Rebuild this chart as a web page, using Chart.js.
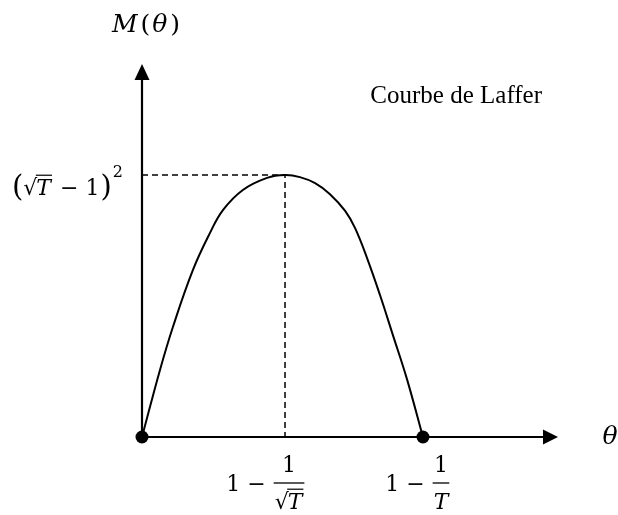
<!DOCTYPE html>
<html>
<head>
<meta charset="utf-8">
<script src="https://cdn.jsdelivr.net/npm/chart.js@4/dist/chart.umd.min.js"></script>
<style>
  html, body { margin: 0; background: #fff; }
  #wrap { width: 618px; height: 515px; }
</style>
</head>
<body>
<div id="wrap"><canvas id="lafferChart"></canvas></div>
<script>
// Laffer curve (theta: 0 -> 1-1/T, M: 0 -> (sqrtT-1)^2)
const thetaValues   = [0, 0.064, 0.110, 0.181, 0.242, 0.288, 0.359, 0.445, 0.509, 0.562, 0.616, 0.669, 0.723, 0.758, 0.801, 0.847, 0.893, 0.943, 1.0];
const revenueValues = [0, 0.256, 0.420, 0.637, 0.779, 0.866, 0.943, 0.989, 1.0, 0.992, 0.969, 0.927, 0.863, 0.798, 0.683, 0.542, 0.389, 0.221, 0];
const thetaPeak = 0.509;     // 1 - 1/sqrt(T)
const revenuePeak = 1.0;     // (sqrt(T) - 1)^2
const thetaEnd = 1.0;        // 1 - 1/T
const thetaMax = 1.477;      // end of the theta axis
const revenueMax = 1.42;     // end of the M axis
const titleText = 'Courbe de Laffer';

const serif = '"Liberation Serif", serif';
const math = '"DejaVu Serif", serif';
const pts = (xs, ys) => xs.map((x, i) => ({ x: x, y: ys[i] }));

// draw a row of text pieces, each with its own font and gap after it
function drawRuns(ctx, runs, x, y, align) {
    let w = 0;
    runs.forEach(r => { ctx.font = r.f; r.w = ctx.measureText(r.t).width; w += r.w + (r.g || 0); });
    let cx = align === 'center' ? x - w / 2 : align === 'right' ? x - w : x;
    ctx.textAlign = 'left';
    runs.forEach(r => {
        ctx.font = r.f;
        ctx.fillText(r.t, cx, y + (r.dy || 0));
        cx += r.w + (r.g || 0);
    });
    return cx;
}

// sqrt sign + italic T with a bar over it, returns width
function sqrtT(ctx, x, y, size) {
    ctx.textAlign = 'left';
    ctx.font = `${size}px ${math}`;
    const ws = ctx.measureText('√').width;
    ctx.fillText('√', x, y);
    ctx.font = `italic ${size}px ${math}`;
    const wt = ctx.measureText('T').width;
    ctx.fillText('T', x + ws - 1, y);
    ctx.beginPath();
    ctx.lineWidth = 1.2;
    ctx.moveTo(x + ws - 1.5, y - size * 0.9);
    ctx.lineTo(x + ws + wt, y - size * 0.9);
    ctx.stroke();
    return ws + wt;
}

function sqrtWidth(ctx, size) {
    ctx.font = `${size}px ${math}`;
    const ws = ctx.measureText('√').width;
    ctx.font = `italic ${size}px ${math}`;
    return ws + ctx.measureText('T').width;
}

// "1 - 1/den" label, bar centred on cx at height y
function tickLabel(ctx, cx, y, den, size) {
    let dw;
    if (den === 'sqrt') dw = sqrtWidth(ctx, size);
    else { ctx.font = `italic ${size}px ${math}`; dw = ctx.measureText('T').width; }
    const bw = Math.max(dw, 13) + 2;
    ctx.font = `${size}px ${math}`;
    ctx.textAlign = 'right';
    ctx.fillText('1 − ', cx - bw / 2 - 1, y + 8);
    ctx.textAlign = 'center';
    ctx.fillText('1', cx, y - 11);
    if (den === 'sqrt') sqrtT(ctx, cx - dw / 2, y + 26, size);
    else { ctx.font = `italic ${size}px ${math}`; ctx.textAlign = 'center'; ctx.fillText('T', cx, y + 26); }
    ctx.beginPath();
    ctx.lineWidth = 1.3;
    ctx.moveTo(cx - bw / 2, y);
    ctx.lineTo(cx + bw / 2, y);
    ctx.stroke();
    ctx.textAlign = 'left';
}

const annotations = {
    id: 'annotations',
    afterDatasetsDraw(chart) {
        const { ctx, scales: { x, y } } = chart;
        const x0 = x.getPixelForValue(0), y0 = y.getPixelForValue(0);
        const xEnd = x.getPixelForValue(thetaMax), yEnd = y.getPixelForValue(revenueMax);
        ctx.save();
        ctx.fillStyle = '#000';
        ctx.strokeStyle = '#000';

        // arrow heads
        ctx.beginPath();
        ctx.moveTo(xEnd + 1, y0);
        ctx.lineTo(xEnd - 14, y0 - 7.5);
        ctx.lineTo(xEnd - 14, y0 + 7.5);
        ctx.closePath();
        ctx.fill();
        ctx.beginPath();
        ctx.moveTo(x0, yEnd - 1);
        ctx.lineTo(x0 - 7.5, yEnd + 15);
        ctx.lineTo(x0 + 7.5, yEnd + 15);
        ctx.closePath();
        ctx.fill();

        ctx.textBaseline = 'alphabetic';
        // axis names
        drawRuns(ctx, [
            { t: 'M', f: `italic 25px ${math}`, g: 3 },
            { t: '(', f: `25px ${math}`, g: 2 },
            { t: 'θ', f: `italic 25px ${math}`, g: 3 },
            { t: ')', f: `25px ${math}` }
        ], x0 + 4, 32, 'center');
        drawRuns(ctx, [{ t: 'θ', f: `italic 25px ${math}` }], 610, 444, 'center');

        // title
        ctx.font = `25px ${serif}`;
        ctx.textAlign = 'right';
        ctx.fillText(titleText, 542, 103);
        ctx.textAlign = 'left';

        // peak value label on the M axis
        const yp = y.getPixelForValue(revenuePeak);
        const base = yp + 20;
        let lx = 12;
        ctx.font = `29px ${math}`;
        ctx.fillText('(', lx, base + 1);
        lx += ctx.measureText('(').width;
        lx += sqrtT(ctx, lx, base, 22) + 1;
        ctx.font = `22px ${math}`;
        ctx.fillText(' − 1', lx, base);
        lx += ctx.measureText(' − 1').width + 1;
        ctx.font = `29px ${math}`;
        ctx.fillText(')', lx, base + 1);
        lx += ctx.measureText(')').width + 1;
        ctx.font = `16px ${math}`;
        ctx.fillText('2', lx, yp + 2);

        // tick labels on the theta axis
        tickLabel(ctx, x.getPixelForValue(thetaPeak) + 4, y0 + 46, 'sqrt', 22);
        tickLabel(ctx, x.getPixelForValue(thetaEnd) + 18, y0 + 46, 'T', 22);

        ctx.restore();
    }
};

new Chart(document.getElementById('lafferChart'), {
    type: 'scatter',
    data: {
        datasets: [
            {   // end points
                data: pts([0, thetaEnd], [0, 0]),
                pointRadius: 6.5,
                pointBackgroundColor: '#000',
                pointBorderWidth: 0,
                showLine: false,
                order: 0
            },
            {   // the curve
                data: pts(thetaValues, revenueValues),
                showLine: true,
                borderColor: '#000',
                borderWidth: 2,
                pointRadius: 0,
                tension: 0.4,
                order: 2
            },
            {   // theta axis
                data: pts([0, thetaMax - 0.03], [0, 0]),
                showLine: true, borderColor: '#000', borderWidth: 2.2, pointRadius: 0, order: 1
            },
            {   // M axis
                data: pts([0, 0], [0, revenueMax - 0.03]),
                showLine: true, borderColor: '#000', borderWidth: 2.2, pointRadius: 0, order: 1
            },
            {   // dashed guides
                data: [{ x: 0, y: revenuePeak }, { x: thetaPeak, y: revenuePeak }, { x: thetaPeak, y: 0 }],
                showLine: true, borderColor: '#000', borderWidth: 1.5, borderDash: [6, 4],
                pointRadius: 0, order: 3
            }
        ]
    },
    options: {
        responsive: true,
        maintainAspectRatio: false,
        animation: false,
        clip: false,
        layout: { padding: { left: 142, right: 61, top: 65, bottom: 78 } },
        plugins: { legend: { display: false }, tooltip: { enabled: false } },
        scales: {
            x: { type: 'linear', min: 0, max: thetaMax, display: false },
            y: { type: 'linear', min: 0, max: revenueMax, display: false }
        }
    },
    plugins: [annotations]
});
</script>
</body>
</html>
